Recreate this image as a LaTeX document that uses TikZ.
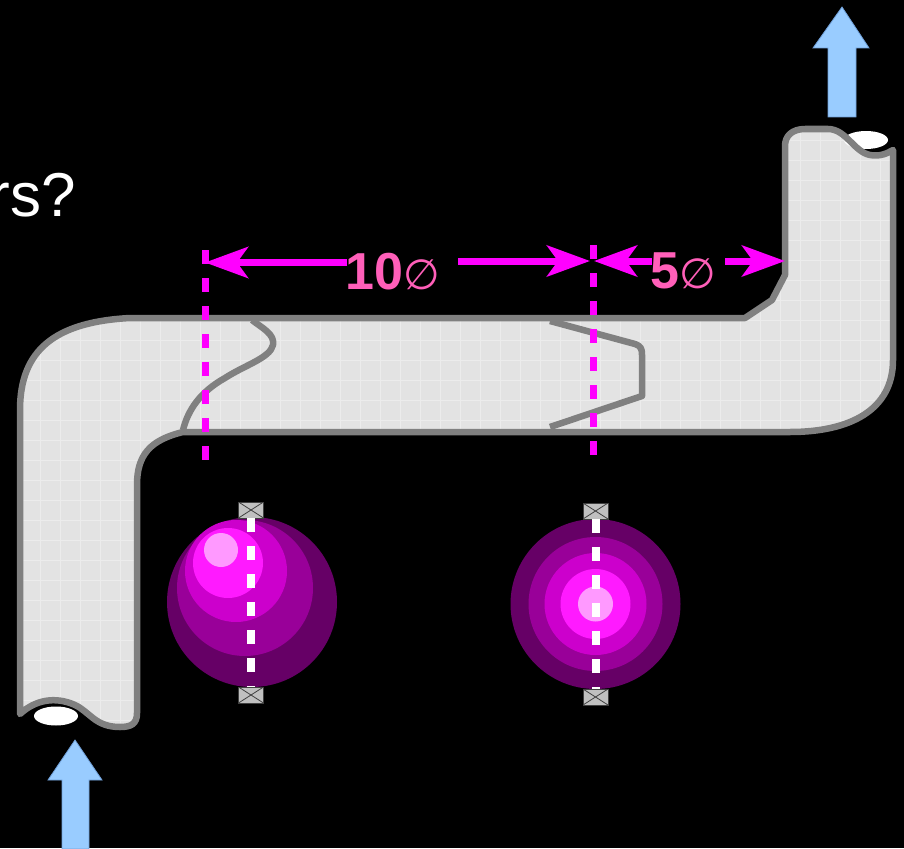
\documentclass[tikz,border=0pt]{standalone}
\usepackage{fontspec}
\setmainfont{Liberation Sans}
\newfontfamily\symfont{DejaVu Sans}
\usetikzlibrary{arrows.meta}

\definecolor{pipefill}{HTML}{E3E3E3}
\definecolor{pipegrid}{HTML}{ECECEC}
\definecolor{pipeline}{HTML}{808080}
\definecolor{dimmag}{HTML}{FF00FF}
\definecolor{dimtext}{HTML}{FF5FB9}
\definecolor{flowblue}{HTML}{99CCFF}
\definecolor{flowedge}{HTML}{6F9FD8}
\definecolor{sphA}{HTML}{660066}
\definecolor{sphB}{HTML}{990099}
\definecolor{sphC}{HTML}{CC00CC}
\definecolor{sphD}{HTML}{FF1AFF}
\definecolor{sphE}{HTML}{FF99FF}
\definecolor{boxgray}{HTML}{C0C0C0}

% outline of the bent pipe
\newcommand\pipeshape{(20,714) -- (20,410)
  .. controls (20,350) and (55,322) .. (130,318) -- (745,318)
  -- (772,300) -- (785,275) -- (785,146)
  .. controls (785,136) and (792,129) .. (805,129) -- (828,129)
  .. controls (846,129) and (854,152) .. (870,155)
  .. controls (880,157) and (888,153) .. (893,150)
  -- (893,360) .. controls (893,410) and (850,432) .. (790,432)
  -- (183,432) .. controls (150,440) and (137,455) .. (137,485)
  -- (137,713) .. controls (137,724) and (131,727) .. (120,727)
  .. controls (95,727) and (90,712) .. (75,705)
  .. controls (55,696) and (35,700) .. (20,714) -- cycle}

\tikzset{
  pipeedge/.style={draw=pipeline, line width=6.5pt, line join=round},
  joint/.style={draw=pipeline, line width=6.5pt, line join=round, line cap=butt},
  dimline/.style={draw=dimmag, line width=7pt, dash pattern=on 14pt off 14pt},
  dimarrow/.style={draw=dimmag, line width=7pt,
    -{Stealth[length=43pt,width=31pt,inset=11pt]}},
  dimlabel/.style={text=dimtext, inner sep=0pt, font=\fontsize{52}{52}\selectfont},
  centreline/.style={draw=white, line width=8pt, dash pattern=on 14pt off 14pt},
  xbox/.style={rectangle, minimum width=25pt, minimum height=16pt, inner sep=0pt,
    fill=boxgray, draw=black!75, line width=0.8pt,
    path picture={\draw[black!75, line width=0.8pt]
      (path picture bounding box.south west) -- (path picture bounding box.north east)
      (path picture bounding box.north west) -- (path picture bounding box.south east);}},
  flowarrow/.style={fill=flowblue, draw=flowedge, line width=0.8pt, line join=miter},
}

\begin{document}
\begin{tikzpicture}[x=1pt,y=-1pt]
\fill[black] (0,0) rectangle (904,848);
\useasboundingbox (0,0) rectangle (904,848);

% question text, running off the left edge
\node[anchor=base east, inner sep=0pt, text=white,
  font=\fontsize{62}{62}\selectfont] (question) at (76,216) {rs?};

% open pipe end at the bottom
\fill[white] (56,716) ellipse [x radius=22pt, y radius=9.5pt];

% pipe body
\fill[pipefill] \pipeshape;
\begin{scope}
  \clip \pipeshape;
  \draw[pipegrid, line width=0.6pt] (0,0) grid[step=20pt] (904,848);
\end{scope}
% open pipe end at the top
\fill[white] (866,140) ellipse [x radius=22pt, y radius=9pt];
\path[pipeedge] \pipeshape;

% flange joints
\draw[joint] (252,320) .. controls (262,328) and (275,334) .. (273,345)
  .. controls (270,358) and (245,365) .. (225,378)
  .. controls (200,392) and (188,410) .. (183,430);
\draw[joint] (550,321) -- (635,344) .. controls (641,346) and (642,349) .. (642,355)
  -- (642,396) -- (550,427);

% dimension reference lines
\coordinate (dA1) at (205,250);
\coordinate (dA2) at (205,460);
\coordinate (dB1) at (593,245);
\coordinate (dB2) at (593,456);
\path[dimline] (dA1) -- (dA2);
\path[dimline] (dB1) -- (dB2);

% dimension arrows
\coordinate (a1s) at (347,262.5);
\coordinate (a1e) at (205,262.5);
\coordinate (a2s) at (458,261);
\coordinate (a2e) at (590,261);
\coordinate (a3s) at (652,261);
\coordinate (a3e) at (594,261);
\coordinate (a4s) at (725,261);
\coordinate (a4e) at (785,261);
\path[dimarrow] (a1s) -- (a1e);
\path[dimarrow] (a2s) -- (a2e);
\path[dimarrow] (a3s) -- (a3e);
\path[dimarrow] (a4s) -- (a4e);

\node[dimlabel, anchor=base west] (lab10) at (345,289)
  {\bfseries 10{\mdseries\symfont\fontsize{42}{42}\selectfont ∅}};
\node[dimlabel, anchor=base west] (lab5) at (650,288)
  {\bfseries 5{\mdseries\symfont\fontsize{42}{42}\selectfont ∅}};

% left ball, lit from the upper left
\fill[sphA] (252,602) circle (85pt);
\fill[sphB] (245,588) circle (68pt);
\fill[sphC] (236,571) circle (51pt);
\fill[sphD] (228,563) circle (35pt);
\fill[sphE] (221,550) circle (17pt);

% right ball, lit head on
\fill[sphA] (595.5,604) circle (85pt);
\fill[sphB] (595.5,604) circle (67pt);
\fill[sphC] (595.5,604) circle (51pt);
\fill[sphD] (595.5,604) circle (35pt);
\fill[sphE] (595.5,604) circle (17.5pt);

% axes through the balls with their bearings
\node[xbox] (lt) at (251,510) {};
\node[xbox] (lb) at (251,695) {};
\node[xbox] (rt) at (595.5,511) {};
\node[xbox] (rb) at (595.5,697) {};
\path[centreline] (lt.south) -- (lb.north);
\path[centreline] (rt.south) -- (rb.north);

% flow direction
\path[flowarrow] (62,849) -- (62,780) -- (48,780) -- (75,740) -- (102,780)
  -- (89,780) -- (89,849) -- cycle;
\path[flowarrow] (828,117) -- (828,48) -- (813,48) -- (842,7) -- (869,48)
  -- (856,48) -- (856,117) -- cycle;
\end{tikzpicture}
\end{document}
